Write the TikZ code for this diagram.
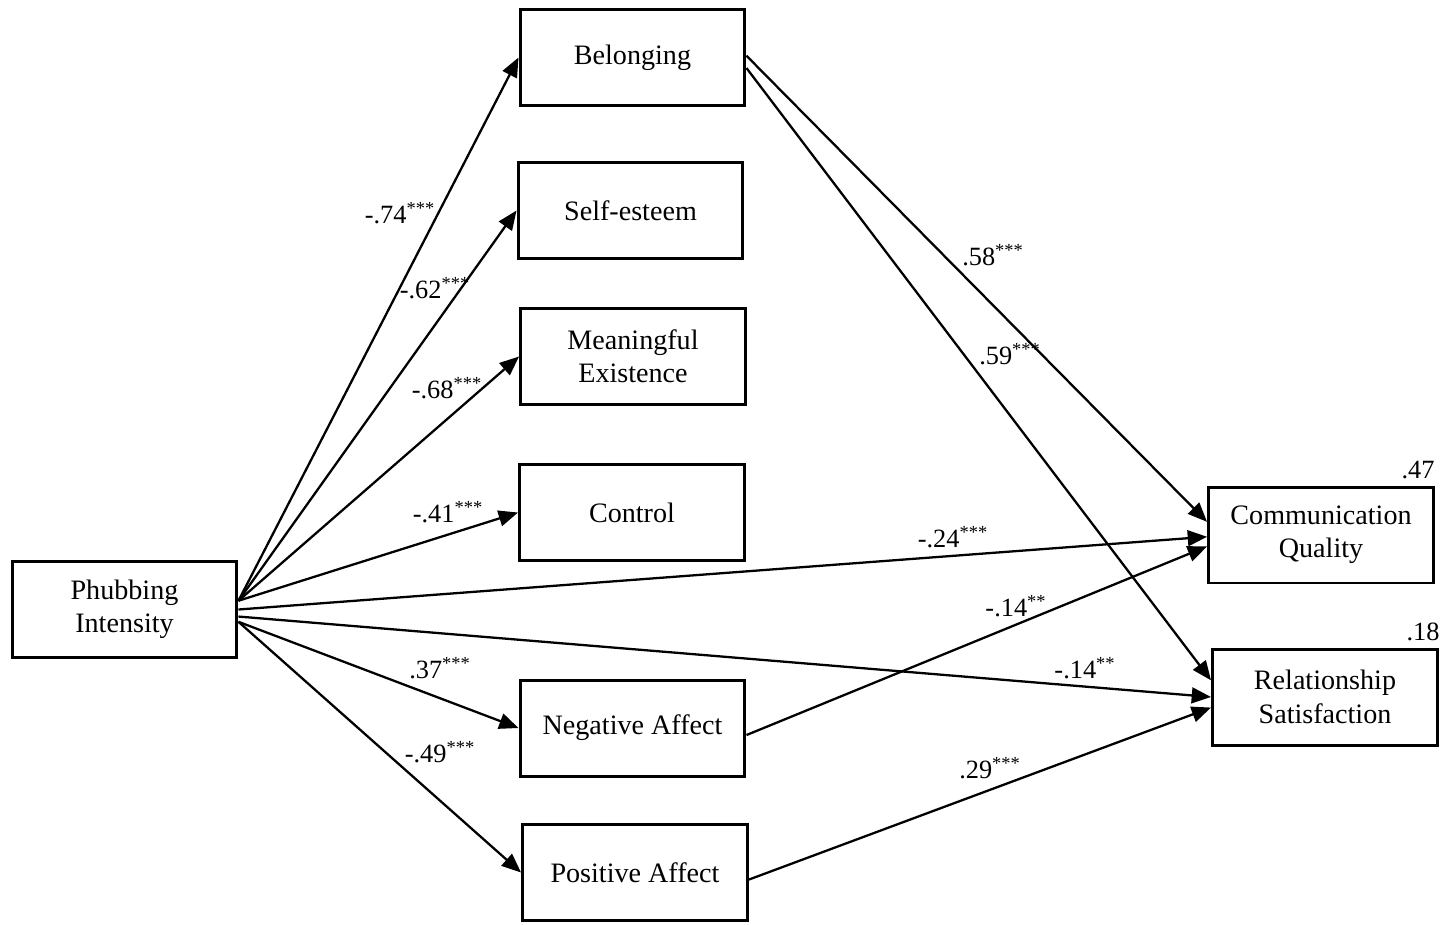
\documentclass[tikz,border=0pt]{standalone}
\usepackage{fontspec}
\setmainfont{Liberation Serif}
\usetikzlibrary{arrows.meta,positioning}

\begin{document}
\begin{tikzpicture}[x=0.02cm,y=-0.02cm,
varnode/.style={rectangle, draw=black, line width=1.7pt, minimum width=4.5cm, minimum height=1.92cm, align=center, font=\fontsize{16}{19}\selectfont},
coef/.style={font=\fontsize{15}{18}\selectfont, inner sep=1pt},
path/.style={line width=1.3pt, -{Triangle[length=11pt,width=9pt]}},
]
\useasboundingbox (0,0) rectangle (1442,924);
%Nodes
\node[varnode](ph) at (124.5,609.5){Phubbing\\Intensity};

\node[varnode](bel) at (632.5,57.5){Belonging};
\node[varnode](se) at (630.5,210.5){Self-esteem};
\node[varnode](me) at (633,356.5){Meaningful\\Existence};
\node[varnode](ctl) at (632,512.5){Control};
\node[varnode](na) at (632.5,728){Negative Affect};
\node[varnode](pa) at (635,872.5){Positive Affect};

\node[varnode](cq) at (1321,535){Communication\\Quality};
\node[varnode](rs) at (1325,697){Relationship\\Satisfaction};

%Lines
\draw[path] ([yshift=5pt]ph.east) -- (bel.west);
\draw[path] ([yshift=5pt]ph.east) -- (se.west);
\draw[path] ([yshift=5pt]ph.east) -- (me.west);
\draw[path] ([yshift=5pt]ph.east) -- (ctl.west);
\draw[path] (ph.east) -- ([yshift=-1pt]cq.west);
\draw[path] ([yshift=-4pt]ph.east) -- (rs.west);
\draw[path] ([yshift=-7pt]ph.east) -- (na.west);
\draw[path] ([yshift=-7pt]ph.east) -- (pa.west);

\draw[path] ([yshift=1pt]bel.east) -- ([yshift=7.5pt]cq.west);
\draw[path] ([yshift=-6pt]bel.east) -- ([yshift=9.5pt]rs.west);
\draw[path] ([yshift=-4pt]na.east) -- ([yshift=-6.5pt]cq.west);
\draw[path] ([yshift=-4pt]pa.east) -- ([yshift=-6pt]rs.west);

%Coefficients
\node[coef] at (400,213){-.74\textsuperscript{***}};
\node[coef] at (435,288){-.62\textsuperscript{***}};
\node[coef] at (447,388){-.68\textsuperscript{***}};
\node[coef] at (448,512){-.41\textsuperscript{***}};
\node[coef] at (953,537){-.24\textsuperscript{***}};
\node[coef] at (440,668){.37\textsuperscript{***}};
\node[coef] at (440,752){-.49\textsuperscript{***}};
\node[coef] at (993,255){.58\textsuperscript{***}};
\node[coef] at (1010,354){.59\textsuperscript{***}};
\node[coef] at (1016,606){-.14\textsuperscript{**}};
\node[coef] at (1085,668){-.14\textsuperscript{**}};
\node[coef] at (990,768){.29\textsuperscript{***}};

\node[coef] at (1418,470){.47};
\node[coef] at (1423,632){.18};

\end{tikzpicture}
\end{document}
